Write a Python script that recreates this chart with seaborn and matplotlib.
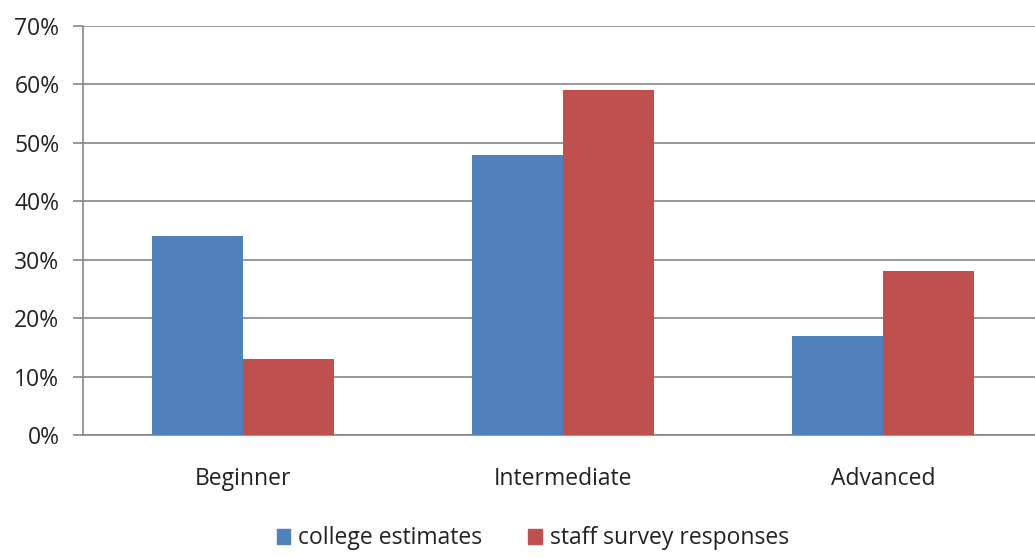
import pandas as pd
import matplotlib.pyplot as plt
import seaborn as sns
from matplotlib.ticker import PercentFormatter

# Values (percent)
levels = ["Beginner", "Intermediate", "Advanced"]
college_estimates = [34, 48, 17]
staff_responses = [13, 59, 28]
series_names = ["college estimates", "staff survey responses"]

df = pd.DataFrame({
    "level": levels * 2,
    "value": college_estimates + staff_responses,
    "series": [series_names[0]] * 3 + [series_names[1]] * 3,
})

sns.set_style("white")
plt.rcParams["font.family"] = ["Open Sans", "DejaVu Sans"]

fig = plt.figure(figsize=(10.35, 5.58), dpi=100)
ax = fig.add_axes([0.0802, 0.2204, 0.9275, 0.7330])

sns.barplot(data=df, x="level", y="value", hue="series",
            palette=["#4F81BD", "#C0504D"], width=0.57, saturation=1,
            linewidth=0, ax=ax, legend=False, zorder=3)

ax.set_ylim(0, 70)
ax.set_xlim(-0.5, 2.5)
ax.set_yticks(range(0, 71, 10))
ax.yaxis.set_major_formatter(PercentFormatter(decimals=0))
ax.grid(axis="y", color="#868686", linewidth=1.2, zorder=0)
# category boundary ticks (major) and centred labels (minor)
ax.set_xticks([-0.5, 0.5, 1.5, 2.5], minor=False)
ax.set_xticks([0, 1, 2], minor=True)
ax.set_xticklabels([], minor=False)
ax.set_xticklabels(levels, minor=True)
ax.tick_params(axis="x", which="major", direction="out", length=7, color="#868686", width=1.2)
ax.tick_params(axis="x", which="minor", length=0, labelsize=16.5, pad=23, labelcolor="#222222")
ax.tick_params(axis="y", direction="out", length=7, color="#868686", width=1.2,
               labelsize=16.5, pad=10, labelcolor="#222222")
ax.tick_params(axis="y", which="major", left=True)
ax.set_xlabel("")
ax.set_ylabel("")

for side in ["top", "right"]:
    ax.spines[side].set_visible(False)
for side in ["left", "bottom"]:
    ax.spines[side].set_color("#868686")
    ax.spines[side].set_linewidth(1.2)

handles = [plt.Rectangle((0, 0), 1, 1, color=c) for c in ["#4F81BD", "#C0504D"]]
fig.legend(handles, series_names, loc="center", bbox_to_anchor=(0.515, 0.035),
           ncol=2, frameon=False, fontsize=16.5, handlelength=0.6, handleheight=0.6,
           handletextpad=0.35, columnspacing=2.0, labelcolor="#222222")

fig.savefig("out.png", dpi=100)
